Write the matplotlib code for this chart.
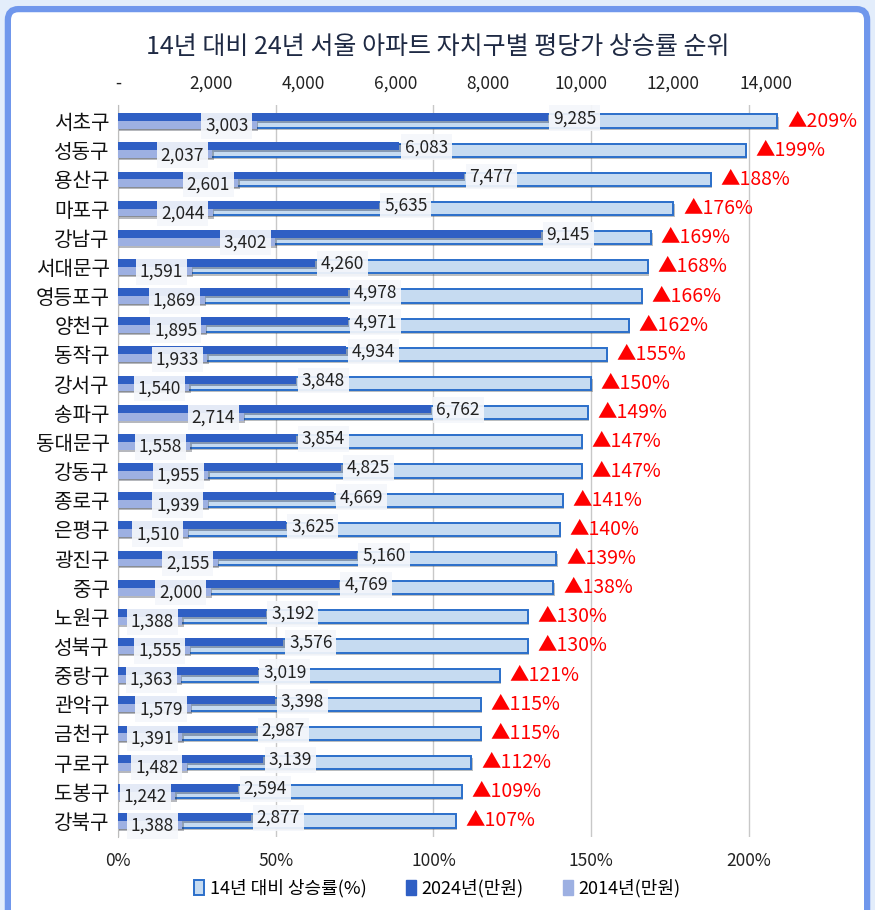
import matplotlib
matplotlib.use("Agg")
import matplotlib.pyplot as plt
import matplotlib.patheffects as pe
from matplotlib.patches import FancyBboxPatch, Patch
import numpy as np

plt.rcParams['font.family'] = ['Noto Sans CJK KR', 'DejaVu Sans']

districts = ["서초구", "성동구", "용산구", "마포구", "강남구", "서대문구", "영등포구", "양천구",
             "동작구", "강서구", "송파구", "동대문구", "강동구", "종로구", "은평구", "광진구",
             "중구", "노원구", "성북구", "중랑구", "관악구", "금천구", "구로구", "도봉구", "강북구"]
price_2014 = [3003, 2037, 2601, 2044, 3402, 1591, 1869, 1895, 1933, 1540, 2714, 1558, 1955,
              1939, 1510, 2155, 2000, 1388, 1555, 1363, 1579, 1391, 1482, 1242, 1388]
price_2024 = [9285, 6083, 7477, 5635, 9145, 4260, 4978, 4971, 4934, 3848, 6762, 3854, 4825,
              4669, 3625, 5160, 4769, 3192, 3576, 3019, 3398, 2987, 3139, 2594, 2877]
growth_pct = [209, 199, 188, 176, 169, 168, 166, 162, 155, 150, 149, 147, 147, 141, 140, 139,
              138, 130, 130, 121, 115, 115, 112, 109, 107]

c_pct = "#c6dbf1"
c_pct_edge = "#2b6fca"
c_2024 = "#2f5fc4"
c_2014 = "#9db0e2"

fig = plt.figure(figsize=(8.75, 9.10), dpi=100)
fig.patch.set_facecolor("#e3edfb")
frame = FancyBboxPatch((0.009, -0.05), 0.982, 1.04, transform=fig.transFigure,
                       boxstyle="round,pad=0,rounding_size=0.012", facecolor="white",
                       edgecolor="#7097ec", linewidth=4.5, zorder=-10)
fig.patches.append(frame)

fig.text(0.5, 0.948, "14년 대비 24년 서울 아파트 자치구별 평당가 상승률 순위",
         ha="center", va="center", fontsize=18, color="#1f2a44", fontweight="medium")

ax = fig.add_axes([0.1349, 0.0802, 0.7931, 0.8044])
ax.set_facecolor("none")
y = np.arange(len(districts))
shadow = [pe.SimplePatchShadow(offset=(1, -1.5), alpha=0.35), pe.Normal()]

bars = ax.barh(y, np.array(growth_pct) / 100, height=0.45, color=c_pct,
               edgecolor=c_pct_edge, linewidth=1.4, zorder=2)
for b in bars:
    b.set_path_effects(shadow)
ax.set_xlim(0, 2.2)
ax.set_ylim(24.55, -0.55)
ax.set_xticks([0, 0.5, 1.0, 1.5, 2.0])
ax.set_xticklabels(["0%", "50%", "100%", "150%", "200%"])
ax.set_yticks(y)
ax.set_yticklabels(districts, fontsize=14.5, color="#111111")
ax.tick_params(axis="x", length=0, pad=11, labelsize=12.5, labelcolor="#222222")
ax.tick_params(axis="y", length=0, pad=6)
ax.grid(axis="x", color="#c8c8c8", linewidth=1, zorder=0)
for s in ["top", "right", "bottom"]:
    ax.spines[s].set_visible(False)
ax.spines["left"].set_color("#bdbdbd")

for i, p in enumerate(growth_pct):
    ax.annotate("▲%d%%" % p, (p / 100, i), xytext=(7, 0), textcoords="offset points",
                ha="left", va="center", fontsize=14, color="#ff0000", zorder=5)

ax2 = ax.twiny()
ax2.set_facecolor("none")
ax2.set_xlim(0, 15000)
ax2.set_ylim(24.55, -0.55)
ax2.set_xticks(range(0, 14001, 2000))
ax2.set_xticklabels(["-"] + ["{:,}".format(v) for v in range(2000, 14001, 2000)])
ax2.tick_params(axis="x", length=0, pad=9, labelsize=12.5, labelcolor="#222222")
for s in ax2.spines.values():
    s.set_visible(False)

b24 = ax2.barh(y - 0.135, price_2024, height=0.27, color=c_2024, zorder=3)
b14 = ax2.barh(y + 0.135, price_2014, height=0.27, color=c_2014, zorder=3)
for b in list(b24) + list(b14):
    b.set_path_effects(shadow)

box = dict(boxstyle="square,pad=0.22", facecolor="#f5f7fb", edgecolor="none", alpha=0.92)
for i in range(len(districts)):
    ax2.annotate("{:,}".format(price_2024[i]), (price_2024[i], i - 0.1), xytext=(4, 0),
                 textcoords="offset points", ha="left", va="center", fontsize=12.5,
                 color="#222222", bbox=box, zorder=6)
    ax2.annotate("{:,}".format(price_2014[i]), (price_2014[i], i + 0.17), xytext=(-6, 0),
                 textcoords="offset points", ha="right", va="center", fontsize=12.5,
                 color="#222222", bbox=box, zorder=6)

handles = [Patch(facecolor=c_pct, edgecolor=c_pct_edge, linewidth=1.4),
           Patch(facecolor=c_2024, edgecolor=c_2024),
           Patch(facecolor=c_2014, edgecolor=c_2014)]
fig.legend(handles, ["14년 대비 상승률(%)", "2024년(만원)", "2014년(만원)"],
           loc="center", bbox_to_anchor=(0.5, 0.024), ncol=3, frameon=False, fontsize=13,
           handlelength=0.55, handleheight=0.9, handletextpad=0.3, columnspacing=2.2)

fig.savefig("out.png", dpi=100, facecolor=fig.get_facecolor())
